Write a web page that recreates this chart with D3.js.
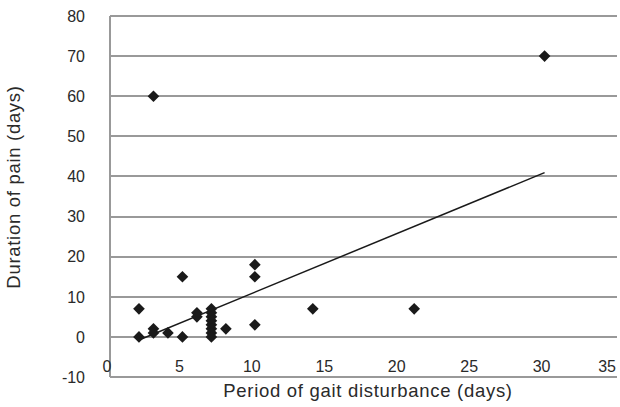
<!DOCTYPE html>
<html lang="en">
<head>
<meta charset="utf-8">
<title>Gait disturbance vs pain</title>
<style>
  body { margin: 0; background: #fff; }
  svg text { font-family: "Liberation Sans", Arial, sans-serif; fill: #2a2a2a; }
  .grid line { stroke: #999; stroke-width: 1.5px; shape-rendering: crispEdges; }
  .trend { fill: none; stroke: #1a1a1a; stroke-width: 1.5px; }
  .title { font-size: 18.5px; letter-spacing: 0.7px; }
</style>
</head>
<body>
<svg id="chart" width="620" height="407"></svg>
<script src="https://cdn.jsdelivr.net/npm/d3@7"></script>
<script>

// values
var gaitDays = [2, 2, 3, 3, 3, 4, 5, 5, 6, 6, 7, 7, 7, 7, 7, 7, 7, 7, 8, 10, 10, 10, 14, 21, 30];
var painDays = [7, 0, 2, 1, 60, 1, 0, 15, 6, 5, 7, 6, 5, 4, 3, 2, 1, 0, 2, 18, 15, 3, 7, 7, 70];
var xTicks = [0, 5, 10, 15, 20, 25, 30, 35];
var yTicks = [-10, 0, 10, 20, 30, 40, 50, 60, 70, 80];
// linear trendline (as drawn in the original)
var trendSlope = 1.49;
var trendIntercept = -3.75;

var svg = d3.select("#chart"),
    margin = {top: 16, right: 3, bottom: 30, left: 110},
    width = +svg.attr("width") - margin.left - margin.right,
    height = +svg.attr("height") - margin.top - margin.bottom,
    g = svg.append("g").attr("transform", "translate(" + margin.left + "," + margin.top + ")");

var x = d3.scaleLinear().domain([0, 35]).range([0, width]);
var y = d3.scaleLinear().domain([-10, 80]).range([height, 0]);

// horizontal gridlines
g.append("g")
    .attr("class", "grid")
    .selectAll("line")
    .data(yTicks)
    .enter().append("line")
      .attr("x1", 0)
      .attr("x2", width)
      .attr("y1", function(d) { return Math.round(y(d)); })
      .attr("y2", function(d) { return Math.round(y(d)); });

// left border
g.append("g")
    .attr("class", "grid")
  .append("line")
    .attr("x1", 0).attr("x2", 0)
    .attr("y1", y(80)).attr("y2", y(-10));

// y tick labels
g.append("g")
    .selectAll("text")
    .data(yTicks)
    .enter().append("text")
      .attr("x", -25)
      .attr("y", function(d) { return y(d); })
      .attr("dy", "0.36em")
      .attr("text-anchor", "end")
      .style("font-size", "16px")
      .text(function(d) { return d; });

// x tick labels (sit between the 0 and -10 lines, like the original)
g.append("g")
    .selectAll("text")
    .data(xTicks)
    .enter().append("text")
      .attr("x", function(d, i) { return i === xTicks.length - 1 ? x(d) - 1 : x(d) - 3; })
      .attr("y", y(-7.3))
      .attr("dy", "0.36em")
      .attr("text-anchor", function(d, i) { return i === xTicks.length - 1 ? "end" : "middle"; })
      .style("font-size", "16px")
      .text(function(d) { return d; });

// trendline across the data range
var xMin = d3.min(gaitDays), xMax = d3.max(gaitDays);
var line = d3.line()
    .x(function(d) { return x(d); })
    .y(function(d) { return y(trendSlope * d + trendIntercept); });

g.append("path")
    .datum([xMin, xMax])
    .attr("class", "trend")
    .attr("d", line);

// diamond markers
var diamond = d3.symbol().type(d3.symbolSquare).size(68);
g.append("g")
    .selectAll("path")
    .data(gaitDays.map(function(d, i) { return {gait: d, pain: painDays[i]}; }))
    .enter().append("path")
      .attr("d", diamond)
      .attr("transform", function(d) {
        return "translate(" + x(d.gait) + "," + y(d.pain) + ") rotate(45)";
      })
      .style("fill", "#1a1a1a");

// axis titles
svg.append("text")
    .attr("class", "title")
    .attr("x", 368)
    .attr("y", 397)
    .attr("text-anchor", "middle")
    .text("Period of gait disturbance (days)");

svg.append("text")
    .attr("class", "title")
    .attr("transform", "translate(20,187) rotate(-90)")
    .attr("text-anchor", "middle")
    .text("Duration of pain (days)");

</script>
</body>
</html>
